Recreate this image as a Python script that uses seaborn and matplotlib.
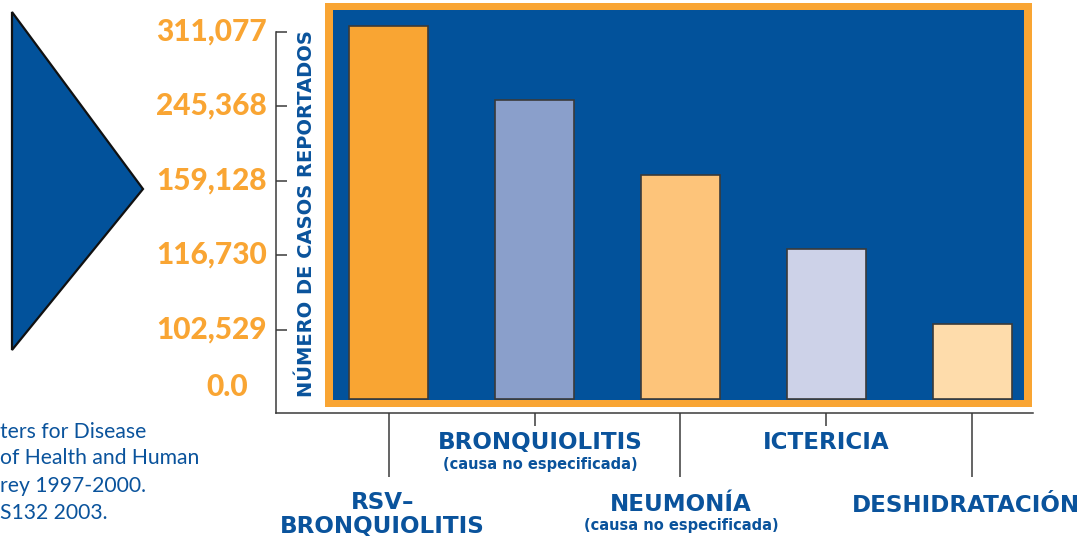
import numpy as np
import pandas as pd
import matplotlib
matplotlib.use("Agg")
import matplotlib.pyplot as plt
import seaborn as sns
from matplotlib.patches import Rectangle, Polygon
from matplotlib.transforms import ScaledTranslation

# ---------------- data ----------------
categories = ["RSV–BRONQUIOLITIS", "BRONQUIOLITIS (causa no especificada)",
              "NEUMONÍA (causa no especificada)", "ICTERICIA", "DESHIDRATACIÓN"]
cases = [311077, 245368, 159128, 116730, 102529]
tick_values = [0, 102529, 116730, 159128, 245368, 311077]
tick_labels = ["0.0", "102,529", "116,730", "159,128", "245,368", "311,077"]
bar_colors = ["#F9A533", "#8A9FCB", "#FDC47A", "#CDD2E8", "#FEDCAB"]
label_lines = [["RSV–", "BRONQUIOLITIS"], ["BRONQUIOLITIS"], ["NEUMONÍA"],
               ["ICTERICIA"], ["DESHIDRATACIÓN"]]
sub_labels = [None, "(causa no especificada)", "(causa no especificada)", None, None]
y_title = "NÚMERO DE CASOS REPORTADOS"
source_lines = ["ters for Disease", "of Health and Human", "rey 1997-2000.", "S132 2003."]

# ---------------- style ----------------
BLUE = "#02529B"
TXT_BLUE = "#0A539C"
ORANGE = "#F9A533"
DARK = "#3A3A3A"
WIDE = ["DejaVu Sans"]

sns.set_theme(style="white")
plt.rcParams["font.family"] = ["Lato", "DejaVu Sans"]

W, H = 1086, 537
fig = plt.figure(figsize=(W / 100, H / 100), dpi=100)
fig.patch.set_facecolor("white")

# overlay (decoration: triangle + source note)
ov = fig.add_axes([0, 0, 1, 1], zorder=-1)
ov.set_xlim(0, W)
ov.set_ylim(H, 0)
ov.axis("off")
ov.add_patch(Polygon([(12, 12), (143, 189), (12, 350)], closed=True,
                     facecolor=BLUE, edgecolor="#111111", linewidth=1.6))
for txt, base in zip(source_lines, [438, 464, 492, 519]):
    ov.text(0, base, txt, fontsize=15.2, color=TXT_BLUE, ha="left", va="baseline")

# main axes (pixel layout: x 276..1033, y 413..3)
ax_l, ax_r, ax_b, ax_t = 276, 1033, 413, 3
ax = fig.add_axes([ax_l / W, (H - ax_b) / H, (ax_r - ax_l) / W, (ax_b - ax_t) / H])
ax.set_facecolor("none")

df = pd.DataFrame({"cat": categories, "cases": cases})
sns.barplot(data=df, x="cat", y="cases", hue="cat", palette=bar_colors,
            saturation=1, width=0.542, edgecolor=DARK, linewidth=1.2,
            errorbar=None, legend=False, ax=ax, zorder=3)

# piecewise-linear value scale: each listed value sits one step apart
vals = np.array(tick_values, float)
ext_v = np.concatenate([[-vals[1]], vals, [vals[-1] + (vals[-1] - vals[-2])]])
ext_l = np.arange(-1, len(vals) + 1, dtype=float)


def fwd(v):
    v = np.asarray(v, float)
    out = np.interp(v, ext_v, ext_l)
    lo = v < ext_v[0]
    hi = v > ext_v[-1]
    out = np.where(lo, ext_l[0] + (v - ext_v[0]) / (ext_v[1] - ext_v[0]), out)
    out = np.where(hi, ext_l[-1] + (v - ext_v[-1]) / (ext_v[-1] - ext_v[-2]), out)
    return out


def inv(l):
    l = np.asarray(l, float)
    out = np.interp(l, ext_l, ext_v)
    lo = l < ext_l[0]
    hi = l > ext_l[-1]
    out = np.where(lo, ext_v[0] + (l - ext_l[0]) * (ext_v[1] - ext_v[0]), out)
    out = np.where(hi, ext_v[-1] + (l - ext_l[-1]) * (ext_v[-1] - ext_v[-2]), out)
    return out


ax.set_yscale("function", functions=(fwd, inv))
px_per_level = 74.54
ax.set_ylim(float(inv(-14.5 / px_per_level)), float(inv(5 + 22.8 / px_per_level)))
ax.set_xlim(-0.773, 4.418)

# orange frame and blue panel
ax.add_patch(Rectangle((0.0647, 0.0146), 0.9987 - 0.0647, 1.0 - 0.0146,
                       transform=ax.transAxes, facecolor=ORANGE, edgecolor="none", zorder=0.5))
ax.add_patch(Rectangle((0.0753, 0.0317), 0.9881 - 0.0753, 0.9829 - 0.0317,
                       transform=ax.transAxes, facecolor=BLUE, edgecolor="none", zorder=0.6))

# spines
for s in ["top", "right"]:
    ax.spines[s].set_visible(False)
for s in ["left", "bottom"]:
    ax.spines[s].set_color(DARK)
    ax.spines[s].set_linewidth(1.1)
tick_shift_px = 6
ax.spines["left"].set_bounds(ax.get_ylim()[0], float(inv(5 - tick_shift_px / px_per_level)))

# y ticks
ax.set_yticks(tick_values, tick_labels)
ax.tick_params(axis="y", direction="in", length=8, width=1.1, color=DARK,
               labelcolor=ORANGE, labelsize=21.5, pad=6.5, left=True)
for lbl in ax.get_yticklabels():
    lbl.set_fontweight("black")

# x ticks
ax.set_xlabel("")
ax.tick_params(axis="x", direction="out", width=1.1, color=DARK, labelbottom=False, bottom=True)

ax.set_ylabel(y_title, fontsize=14, fontweight="bold", color=TXT_BLUE, family=WIDE)
ax.yaxis.set_label_coords((306.5 - ax_l) / (ax_r - ax_l), (ax_b - 213.5) / (ax_b - ax_t))
ax.yaxis.label.set_va("center")

# category labels (staggered rows)
name_base = [[-96, -120], [-35.5], [-98], [-36], [-99]]
sub_base = [None, -56, -117, None, None]
dx = [-6.5, 6, 0.5, 0, -6]
for i, lines in enumerate(label_lines):
    for txt, dy in zip(lines, name_base[i]):
        ax.annotate(txt, xy=(i, 0), xycoords=("data", "axes fraction"),
                    xytext=(dx[i], dy), textcoords="offset pixels",
                    ha="center", va="baseline", fontsize=16.6, fontweight="bold",
                    family=WIDE, color=TXT_BLUE, annotation_clip=False)
    if sub_labels[i]:
        ax.annotate(sub_labels[i], xy=(i, 0), xycoords=("data", "axes fraction"),
                    xytext=(dx[i], sub_base[i]), textcoords="offset pixels",
                    ha="center", va="baseline", fontsize=10.5, fontweight="bold",
                    family=WIDE, color=TXT_BLUE, annotation_clip=False)

# final per-tick adjustments
yt = ax.yaxis.get_major_ticks()
for k, t in enumerate(yt):
    if k == 0:
        t.tick1line.set_visible(False)
        t.label1.set_transform(t.label1.get_transform()
                               + ScaledTranslation(-19 / 100, 13.5 / 100, fig.dpi_scale_trans))
    else:
        t.tick1line.set_transform(t.tick1line.get_transform()
                                  + ScaledTranslation(0, -tick_shift_px / 100, fig.dpi_scale_trans))
        t.label1.set_transform(t.label1.get_transform()
                               + ScaledTranslation(0, -3 / 100, fig.dpi_scale_trans))
xt = ax.xaxis.get_major_ticks()
for k, t in enumerate(xt):
    t.tick1line.set_markersize(46 if k % 2 == 0 else 9.4)

fig.savefig("out.png", dpi=100, facecolor="white")
